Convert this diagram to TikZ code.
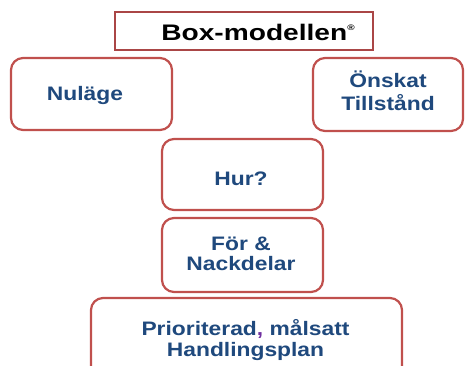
\documentclass[tikz,border=0pt]{standalone}
\usepackage{fontspec}
\newfontfamily\boxfont{Liberation Sans}[FakeStretch=1.17]
\newfontfamily\titlefont{Liberation Sans}[FakeStretch=1.25]
\definecolor{boxred}{RGB}{192,80,77}
\definecolor{titlered}{RGB}{170,70,70}
\definecolor{txtblue}{RGB}{31,73,125}
\definecolor{commapurple}{RGB}{112,48,160}
\tikzset{
  rbox/.style={draw=boxred, line width=2.2pt, rounded corners=12pt, fill=white, inner sep=0pt},
  tbox/.style={draw=titlered, line width=1.8pt, fill=white, inner sep=0pt},
  txt/.style={anchor=base, inner sep=0pt, text=txtblue, font=\boxfont\bfseries\fontsize{19.5}{22}\selectfont},
  ttl/.style={anchor=base, inner sep=0pt, text=black, font=\titlefont\bfseries\fontsize{22.5}{24}\selectfont}
}
\begin{document}
\begin{tikzpicture}[x=1pt,y=-1pt]
\useasboundingbox (0,0) rectangle (465,365);
\clip (0,0) rectangle (465,365);
% title
\node[tbox, minimum width=258pt, minimum height=38pt] (title) at (244,31) {};
\node[ttl] (titletext) at (258,40.5) {Box-modellen\raisebox{10pt}{\fontsize{8}{8}\selectfont ®}};
% Nuläge
\node[rbox, minimum width=161pt, minimum height=72pt] (nul) at (91.5,94) {};
\node[txt] (nult) at (85,100) {Nuläge};
% Önskat Tillstånd
\node[rbox, minimum width=150pt, minimum height=73pt] (onsk) at (388,94.5) {};
\node[txt] (onskA) at (388,87.7) {Önskat};
\node[txt] (onskB) at (388,110) {Tillstånd};
% Hur?
\node[rbox, minimum width=161pt, minimum height=71pt] (hur) at (242.5,174.5) {};
\node[txt] (hurt) at (241,185) {Hur?};
% För & Nackdelar
\node[rbox, minimum width=161pt, minimum height=74pt] (for) at (242.5,255) {};
\node[txt] (forA) at (241,250) {För \&};
\node[txt] (forB) at (241,270) {Nackdelar};
% Prioriterad
\node[rbox, minimum width=311pt, minimum height=82pt] (prio) at (246.5,339) {};
\node[txt] (prioA) at (245.5,335) {Prioriterad{\color{commapurple},} målsatt};
\node[txt] (prioB) at (245.5,356.7) {Handlingsplan};
\end{tikzpicture}
\end{document}
